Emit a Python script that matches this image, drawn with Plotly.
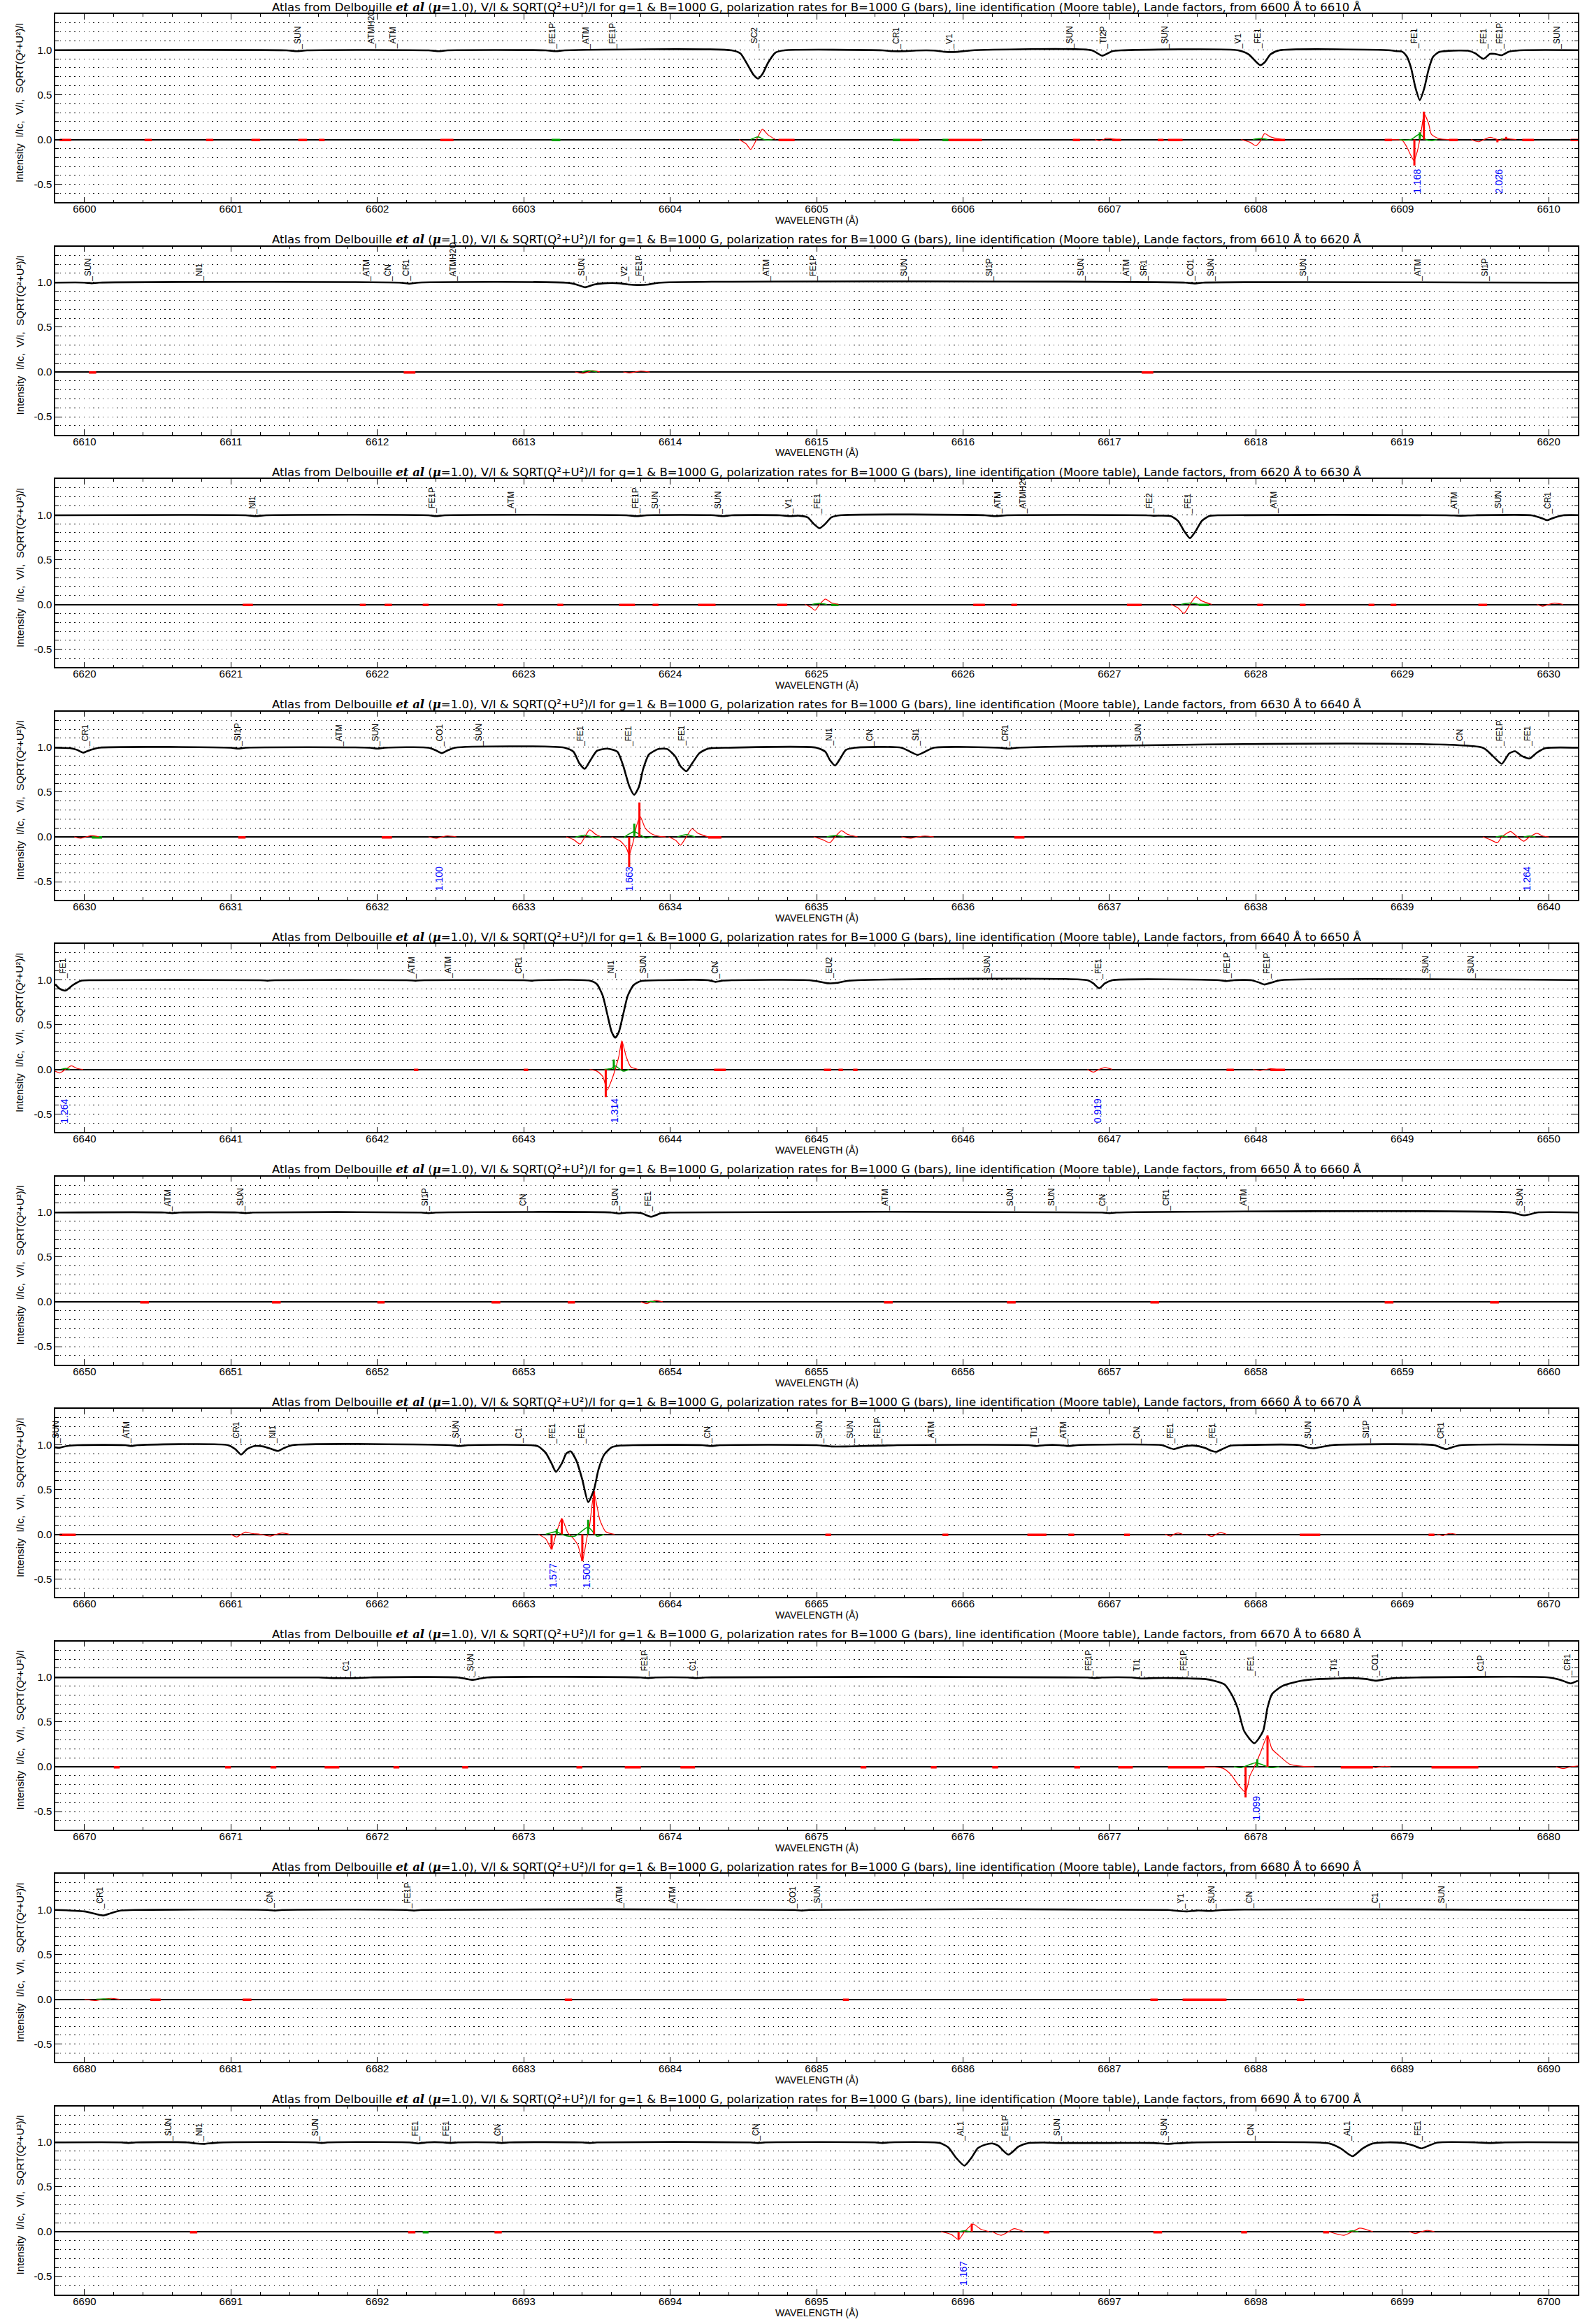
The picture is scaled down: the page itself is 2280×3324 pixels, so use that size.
import plotly.graph_objects as go

W, H = 2280, 3324
PANEL_STARTS = [6600, 6610, 6620, 6630, 6640, 6650, 6660, 6670, 6680, 6690]
YTICK_VALS = [-0.5, 0.0, 0.5, 1.0]
YTICK_TEXT = ["-0.5", "0.0", "0.5", "1.0"]

# ---------------- panel 6600-6610 ----------------
SPEC_6600 = [(6599.80, 0.997), (6601.38, 0.995), (6601.45, 0.985), (6601.52, 0.995), (6602.35, 0.995), (6602.42, 0.985),
             (6602.48, 0.995), (6603.15, 0.995), (6603.22, 0.985), (6603.28, 0.995), (6604.42, 0.995), (6604.48, 0.96),
             (6604.53, 0.83), (6604.57, 0.72), (6604.60, 0.68), (6604.63, 0.73), (6604.67, 0.86), (6604.72, 0.97),
             (6604.78, 0.995), (6605.45, 0.995), (6605.52, 0.985), (6605.60, 0.985), (6605.68, 0.993), (6605.80, 0.993),
             (6605.88, 0.978), (6605.96, 0.978), (6606.05, 0.993), (6606.88, 0.995), (6606.95, 0.935), (6607.02, 0.985),
             (6607.08, 0.995), (6607.88, 0.995), (6607.95, 0.95), (6608.00, 0.87), (6608.03, 0.83), (6608.06, 0.86),
             (6608.10, 0.95), (6608.16, 0.995), (6608.92, 0.995), (6608.96, 0.985), (6609.00, 0.98), (6609.03, 0.93),
             (6609.06, 0.80), (6609.09, 0.58), (6609.12, 0.44), (6609.15, 0.57), (6609.18, 0.78), (6609.21, 0.92),
             (6609.25, 0.975), (6609.32, 0.99), (6609.45, 0.99), (6609.50, 0.96), (6609.555, 0.90), (6609.60, 0.955),
             (6609.63, 0.955), (6609.68, 0.94), (6609.73, 0.98), (6609.80, 0.995), (6610.20, 0.997)]
VI_6600 = [[(6604.47, 0), (6604.52, -0.05), (6604.55, -0.11), (6604.59, 0.0), (6604.63, 0.115), (6604.67, 0.05), (6604.72, 0.0)],
           [(6606.90, 0), (6606.93, -0.012), (6606.96, 0), (6606.98, 0.015), (6607.02, 0.005), (6607.05, 0)],
           [(6607.90, 0), (6607.96, -0.03), (6608.00, -0.07), (6608.03, -0.02), (6608.06, 0.065), (6608.10, 0.03), (6608.18, 0.0)],
           [(6608.92, 0), (6609.00, -0.01), (6609.03, -0.08), (6609.06, -0.18), (6609.08, -0.235), (6609.10, -0.15),
            (6609.12, 0.0), (6609.135, 0.15), (6609.15, 0.287), (6609.18, 0.18), (6609.20, 0.055), (6609.25, 0.01), (6609.32, 0.0)],
           [(6609.47, 0), (6609.52, -0.025), (6609.56, 0.0), (6609.60, 0.025), (6609.64, 0.005), (6609.66, -0.01),
            (6609.70, 0.01), (6609.74, 0.005), (6609.78, 0)]]
QU_6600 = [[(6604.55, 0), (6604.60, 0.03), (6604.64, 0), (6604.67, -0.005), (6604.70, 0)],
           [(6607.98, 0), (6608.03, 0.012), (6608.08, 0)],
           [(6608.98, 0), (6609.02, -0.008), (6609.06, 0.0), (6609.12, 0.06), (6609.16, 0.0), (6609.20, -0.012), (6609.24, 0)]]
BARS_6600 = [(6609.083, -0.29, "V"), (6609.148, 0.31, "V"), (6609.12, 0.08, "Q"),
             (6609.65, -0.03, "V"), (6609.71, 0.03, "V"), (6609.68, 0.012, "Q")]
IDS_6600 = [(6601.48, "SUN"), (6601.98, "ATMH2O"), (6602.13, "ATM"), (6603.22, "FE1P"), (6603.45, "ATM"), (6603.63, "FE1P"),
            (6604.60, "SC2"), (6605.57, "CR1"), (6605.93, "V1"), (6606.75, "SUN"), (6606.98, "TI2P"), (6607.40, "SUN"),
            (6607.90, "V1"), (6608.04, "FE1"), (6609.11, "FE1"), (6609.58, "FE1"), (6609.69, "FE1P"), (6610.08, "SUN")]
LANDE_6600 = [(6609.10, "1.168"), (6609.66, "2.026")]
ZERO_6600 = [(6599.83, 6599.91, "V"), (6600.41, 6600.46, "V"), (6600.83, 6600.88, "V"), (6601.14, 6601.20, "V"),
             (6601.46, 6601.52, "V"), (6601.60, 6601.64, "V"), (6602.43, 6602.52, "V"), (6603.19, 6603.25, "Q"),
             (6604.74, 6604.85, "V"), (6605.52, 6605.57, "Q"), (6605.57, 6605.70, "V"), (6605.86, 6605.90, "Q"),
             (6605.90, 6606.13, "V"), (6606.75, 6606.80, "V"), (6607.02, 6607.08, "V"), (6607.33, 6607.37, "V"),
             (6607.40, 6607.50, "V"), (6608.12, 6608.20, "V"), (6608.88, 6608.93, "V"), (6609.32, 6609.38, "V"),
             (6609.82, 6609.90, "V"), (6610.15, 6610.20, "V")]

# ---------------- panel 6610-6620 ----------------
SPEC_6610 = [(6609.80, 0.997), (6610.00, 0.997), (6610.05, 0.99), (6610.10, 0.997), (6612.15, 0.997), (6612.22, 0.985),
             (6612.28, 0.997), (6613.30, 0.995), (6613.36, 0.975), (6613.42, 0.945), (6613.48, 0.975), (6613.55, 0.99),
             (6613.65, 0.99), (6613.72, 0.975), (6613.78, 0.97), (6613.85, 0.975), (6613.92, 0.995), (6617.52, 0.997),
             (6617.58, 0.988), (6617.64, 0.997), (6620.20, 0.997)]
VI_6610 = [[(6613.35, 0), (6613.40, -0.015), (6613.44, 0.0), (6613.47, 0.015), (6613.52, 0)],
           [(6613.68, 0), (6613.72, -0.01), (6613.76, 0), (6613.80, 0.01), (6613.86, 0)]]
QU_6610 = [[(6613.40, 0), (6613.44, 0.015), (6613.50, 0)]]
BARS_6610 = []
IDS_6610 = [(6610.05, "SUN"), (6610.81, "NI1"), (6611.95, "ATM"), (6612.10, "CN"), (6612.22, "CR1"), (6612.54, "ATMH2O"),
            (6613.42, "SUN"), (6613.71, "V2"), (6613.81, "FE1P"), (6614.68, "ATM"), (6615.00, "FE1P"), (6615.62, "SUN"),
            (6616.20, "SI1P"), (6616.83, "SUN"), (6617.14, "ATM"), (6617.26, "SR1"), (6617.58, "CO1"), (6617.72, "SUN"),
            (6618.35, "SUN"), (6619.13, "ATM"), (6619.59, "SI1P")]
LANDE_6610 = []
ZERO_6610 = [(6610.03, 6610.08, "V"), (6612.18, 6612.26, "V"), (6617.22, 6617.30, "V")]

# ---------------- panel 6620-6630 ----------------
SPEC_6620 = [(6619.80, 0.995), (6621.10, 0.995), (6621.17, 0.985), (6621.24, 0.995), (6622.35, 0.995), (6622.40, 0.985),
             (6622.46, 0.995), (6623.70, 0.995), (6623.77, 0.985), (6623.84, 0.995), (6624.30, 0.995), (6624.36, 0.985),
             (6624.42, 0.995), (6624.75, 0.995), (6624.82, 0.985), (6624.88, 0.99), (6624.94, 0.97), (6624.98, 0.90),
             (6625.02, 0.85), (6625.06, 0.90), (6625.10, 0.97), (6625.16, 0.995), (6626.15, 0.995), (6626.22, 0.985),
             (6626.30, 0.995), (6627.25, 0.995), (6627.30, 0.99), (6627.42, 0.985), (6627.47, 0.93), (6627.51, 0.82),
             (6627.55, 0.74), (6627.59, 0.82), (6627.63, 0.93), (6627.68, 0.985), (6627.75, 0.995), (6629.30, 0.995),
             (6629.40, 0.99), (6629.50, 0.995), (6629.88, 0.995), (6629.94, 0.97), (6629.99, 0.94), (6630.04, 0.97),
             (6630.10, 0.995), (6630.20, 0.997)]
VI_6620 = [[(6624.92, 0), (6624.96, -0.03), (6624.99, -0.065), (6625.02, 0), (6625.06, 0.06), (6625.10, 0.02), (6625.15, 0)],
           [(6627.42, 0), (6627.47, -0.04), (6627.51, -0.10), (6627.55, 0), (6627.59, 0.085), (6627.63, 0.04), (6627.70, 0)],
           [(6629.92, 0), (6629.96, -0.02), (6630.00, 0), (6630.04, 0.015), (6630.10, 0)]]
QU_6620 = [[(6624.97, 0), (6625.02, 0.012), (6625.07, 0)], [(6627.49, 0), (6627.55, 0.015), (6627.61, 0)]]
BARS_6620 = []
IDS_6620 = [(6621.17, "NI1"), (6622.40, "FE1P"), (6622.94, "ATM"), (6623.79, "FE1P"), (6623.92, "SUN"), (6624.35, "SUN"),
            (6624.83, "V1"), (6625.03, "FE1"), (6626.26, "ATM"), (6626.43, "ATMH2O"), (6627.30, "FE2"), (6627.56, "FE1"),
            (6628.15, "ATM"), (6629.38, "ATM"), (6629.68, "SUN"), (6630.02, "CR1")]
LANDE_6620 = []
ZERO_6620 = [(6621.08, 6621.15, "V"), (6621.88, 6621.92, "V"), (6622.05, 6622.10, "V"), (6622.31, 6622.35, "V"),
             (6622.82, 6622.86, "V"), (6623.23, 6623.27, "V"), (6623.65, 6623.76, "V"), (6623.88, 6623.92, "V"),
             (6624.19, 6624.31, "V"), (6624.73, 6624.80, "V"), (6625.10, 6625.15, "Q"), (6626.07, 6626.15, "V"),
             (6626.33, 6626.37, "V"), (6627.12, 6627.22, "V"), (6627.61, 6627.68, "Q"), (6628.01, 6628.05, "V"),
             (6628.30, 6628.34, "V"), (6628.77, 6628.81, "V"), (6628.92, 6628.96, "V"), (6629.52, 6629.58, "V")]

# ---------------- panel 6630-6640 ----------------
SPEC_6630 = [(6629.80, 0.995), (6629.90, 0.99), (6629.95, 0.97), (6629.99, 0.94), (6630.04, 0.97), (6630.10, 0.995),
             (6631.00, 0.995), (6631.05, 0.985), (6631.10, 0.995), (6631.95, 0.995), (6632.00, 0.985), (6632.05, 0.995),
             (6632.35, 0.995), (6632.40, 0.965), (6632.44, 0.935), (6632.48, 0.965), (6632.53, 0.995), (6633.28, 0.995),
             (6633.34, 0.95), (6633.38, 0.82), (6633.417, 0.76), (6633.45, 0.84), (6633.50, 0.96), (6633.57, 0.985),
             (6633.64, 0.95), (6633.68, 0.79), (6633.72, 0.57), (6633.754, 0.47), (6633.786, 0.555), (6633.816, 0.76),
             (6633.855, 0.92), (6633.92, 0.98), (6633.98, 0.98), (6634.036, 0.895), (6634.07, 0.79), (6634.111, 0.733),
             (6634.15, 0.82), (6634.20, 0.935), (6634.26, 0.985), (6634.40, 0.995), (6635.00, 0.995), (6635.06, 0.95),
             (6635.09, 0.86), (6635.126, 0.796), (6635.16, 0.87), (6635.20, 0.97), (6635.26, 0.995), (6635.58, 0.995),
             (6635.64, 0.95), (6635.69, 0.915), (6635.74, 0.95), (6635.80, 0.995), (6636.25, 0.995), (6636.31, 0.985),
             (6636.37, 0.995), (6639.55, 0.995), (6639.62, 0.90), (6639.68, 0.815), (6639.73, 0.93), (6639.77, 0.955),
             (6639.82, 0.90), (6639.87, 0.875), (6639.92, 0.94), (6639.98, 0.99), (6640.20, 0.995)]
VI_6630 = [[(6629.93, 0), (6629.97, -0.015), (6630.01, 0), (6630.05, 0.015), (6630.10, 0)],
           [(6632.35, 0), (6632.40, -0.015), (6632.44, 0), (6632.48, 0.012), (6632.54, 0)],
           [(6633.29, 0), (6633.34, -0.03), (6633.385, -0.079), (6633.417, 0), (6633.45, 0.079), (6633.49, 0.03), (6633.53, 0)],
           [(6633.60, 0), (6633.66, -0.047), (6633.70, -0.12), (6633.72, -0.20), (6633.74, -0.10), (6633.755, 0),
            (6633.77, 0.12), (6633.795, 0.228), (6633.83, 0.097), (6633.87, 0.037), (6633.93, 0.005), (6633.97, 0)],
           [(6633.99, 0), (6634.04, -0.04), (6634.07, -0.092), (6634.11, 0), (6634.15, 0.092), (6634.19, 0.04), (6634.26, 0)],
           [(6634.98, 0), (6635.04, -0.03), (6635.09, -0.065), (6635.126, 0), (6635.17, 0.07), (6635.21, 0.03), (6635.28, 0)],
           [(6635.58, 0), (6635.64, -0.015), (6635.69, 0), (6635.74, 0.01), (6635.80, 0)],
           [(6639.55, 0), (6639.60, -0.03), (6639.65, -0.065), (6639.68, 0), (6639.74, 0.06), (6639.78, 0.01),
            (6639.83, -0.047), (6639.87, 0), (6639.92, 0.04), (6639.96, 0.01), (6640.00, 0)]]
QU_6630 = [[(6633.35, -0.005), (6633.417, 0.02), (6633.48, -0.005), (6633.52, 0)],
           [(6633.68, -0.01), (6633.755, 0.058), (6633.83, -0.01), (6633.88, 0)],
           [(6634.05, 0), (6634.11, 0.025), (6634.17, 0)],
           [(6635.07, 0), (6635.13, 0.015), (6635.19, 0)],
           [(6639.64, 0), (6639.68, 0.012), (6639.72, 0)], [(6639.83, 0), (6639.87, 0.01), (6639.91, 0)]]
BARS_6630 = [(6633.72, -0.335, "V"), (6633.79, 0.385, "V"), (6633.755, 0.149, "Q")]
IDS_6630 = [(6630.03, "CR1"), (6631.07, "SI1P"), (6631.76, "ATM"), (6632.01, "SUN"), (6632.45, "CO1"), (6632.72, "SUN"),
            (6633.41, "FE1"), (6633.74, "FE1"), (6634.10, "FE1"), (6635.11, "NI1"), (6635.39, "CN"), (6635.70, "SI1"),
            (6636.31, "CR1"), (6637.22, "SUN"), (6639.42, "CN"), (6639.69, "FE1P"), (6639.88, "FE1")]
LANDE_6630 = [(6632.42, "1.100"), (6633.72, "1.663"), (6639.85, "1.264")]
ZERO_6630 = [(6630.05, 6630.12, "Q"), (6631.05, 6631.10, "V"), (6632.03, 6632.10, "V"), (6634.26, 6634.35, "V"),
             (6636.35, 6636.42, "V")]

# ---------------- panel 6640-6650 ----------------
SPEC_6640 = [(6639.80, 0.95), (6639.83, 0.90), (6639.87, 0.879), (6639.92, 0.94), (6639.98, 0.99), (6640.05, 0.995),
             (6641.20, 0.995), (6641.25, 0.99), (6641.30, 0.995), (6642.20, 0.995), (6642.26, 0.99), (6642.32, 0.995),
             (6643.00, 0.995), (6643.05, 0.99), (6643.10, 0.995), (6643.45, 0.99), (6643.50, 0.95), (6643.54, 0.82),
             (6643.57, 0.62), (6643.60, 0.42), (6643.625, 0.353), (6643.65, 0.42), (6643.68, 0.62), (6643.71, 0.82),
             (6643.75, 0.94), (6643.80, 0.985), (6643.95, 0.995), (6644.26, 0.995), (6644.31, 0.976), (6644.36, 0.99),
             (6644.42, 0.995), (6644.95, 0.995), (6645.03, 0.975), (6645.08, 0.96), (6645.14, 0.965), (6645.20, 0.985),
             (6645.28, 0.995), (6646.85, 0.995), (6646.89, 0.96), (6646.93, 0.905), (6646.97, 0.96), (6647.02, 0.995),
             (6647.75, 0.995), (6647.80, 0.985), (6647.85, 0.995), (6647.97, 0.995), (6648.02, 0.97), (6648.06, 0.947),
             (6648.11, 0.97), (6648.17, 0.995), (6650.20, 0.997)]
VI_6640 = [[(6639.80, -0.02), (6639.83, -0.04), (6639.87, 0), (6639.91, 0.04), (6639.95, 0.01), (6639.99, 0)],
           [(6643.45, 0), (6643.50, -0.02), (6643.54, -0.08), (6643.57, -0.23), (6643.60, -0.12), (6643.625, 0),
            (6643.65, 0.15), (6643.67, 0.32), (6643.70, 0.14), (6643.73, 0.03), (6643.78, 0)],
           [(6646.85, 0), (6646.89, -0.03), (6646.93, 0), (6646.97, 0.02), (6647.02, 0)],
           [(6647.98, 0), (6648.03, -0.012), (6648.07, 0), (6648.10, 0.008), (6648.14, 0)]]
QU_6640 = [[(6639.84, 0), (6639.87, 0.01), (6639.90, 0)],
           [(6643.55, 0), (6643.60, 0.01), (6643.625, 0.04), (6643.65, 0.01), (6643.68, -0.02), (6643.72, 0)]]
BARS_6640 = [(6643.56, -0.31, "V"), (6643.67, 0.31, "V"), (6643.615, 0.11, "Q")]
IDS_6640 = [(6639.88, "FE1"), (6642.26, "ATM"), (6642.51, "ATM"), (6642.99, "CR1"), (6643.62, "NI1"), (6643.84, "SUN"),
            (6644.33, "CN"), (6645.11, "EU2"), (6646.19, "SUN"), (6646.95, "FE1"), (6647.83, "FE1P"), (6648.10, "FE1P"),
            (6649.18, "SUN"), (6649.49, "SUN")]
LANDE_6640 = [(6639.86, "1.264"), (6643.62, "1.314"), (6646.92, "0.919")]
ZERO_6640 = [(6642.25, 6642.28, "V"), (6643.00, 6643.03, "V"), (6644.30, 6644.38, "V"), (6645.05, 6645.10, "V"),
             (6645.15, 6645.18, "V"), (6645.25, 6645.28, "V"), (6647.80, 6647.85, "V"), (6648.10, 6648.20, "V")]

# ---------------- panel 6650-6660 ----------------
SPEC_6650 = [(6649.80, 0.997), (6650.55, 0.997), (6650.60, 0.99), (6650.65, 0.997), (6651.05, 0.997), (6651.10, 0.99),
             (6651.15, 0.997), (6652.30, 0.997), (6652.35, 0.99), (6652.40, 0.997), (6653.60, 0.997), (6653.65, 0.985),
             (6653.70, 0.995), (6653.80, 0.99), (6653.87, 0.95), (6653.94, 0.99), (6654.00, 0.997), (6656.95, 0.997),
             (6657.00, 0.99), (6657.05, 0.997), (6659.75, 0.997), (6659.80, 0.975), (6659.83, 0.965), (6659.87, 0.975),
             (6659.92, 0.997), (6660.20, 0.997)]
VI_6650 = [[(6653.80, 0), (6653.84, -0.02), (6653.87, 0), (6653.90, 0.015), (6653.95, 0)]]
QU_6650 = [[(6653.84, 0), (6653.87, 0.006), (6653.90, 0)]]
BARS_6650 = []
IDS_6650 = [(6650.59, "ATM"), (6651.09, "SUN"), (6652.35, "SI1P"), (6653.02, "CN"), (6653.65, "SUN"), (6653.87, "FE1"),
            (6655.49, "ATM"), (6656.35, "SUN"), (6656.63, "SUN"), (6656.98, "CN"), (6657.41, "CR1"), (6657.94, "ATM"),
            (6659.83, "SUN")]
LANDE_6650 = []
ZERO_6650 = [(6650.38, 6650.44, "V"), (6651.28, 6651.34, "V"), (6652.00, 6652.05, "V"), (6652.78, 6652.84, "V"),
             (6653.30, 6653.35, "V"), (6655.46, 6655.52, "V"), (6656.30, 6656.36, "V"), (6657.28, 6657.34, "V"),
             (6658.88, 6658.94, "V"), (6659.60, 6659.66, "V")]

# ---------------- panel 6660-6670 ----------------
SPEC_6660 = [(6659.80, 0.97), (6659.83, 0.966), (6659.88, 0.985), (6659.95, 0.995), (6660.28, 0.995), (6660.32, 0.985),
             (6660.36, 0.995), (6660.98, 0.995), (6661.03, 0.95), (6661.07, 0.89), (6661.11, 0.95), (6661.16, 0.985),
             (6661.22, 0.98), (6661.28, 0.95), (6661.32, 0.93), (6661.36, 0.96), (6661.42, 0.995), (6662.50, 0.995),
             (6662.56, 0.985), (6662.62, 0.995), (6663.05, 0.995), (6663.10, 0.98), (6663.15, 0.91), (6663.19, 0.79),
             (6663.22, 0.697), (6663.26, 0.79), (6663.29, 0.90), (6663.32, 0.926), (6663.36, 0.82), (6663.40, 0.61),
             (6663.44, 0.36), (6663.48, 0.50), (6663.51, 0.72), (6663.55, 0.89), (6663.60, 0.97), (6663.66, 0.99),
             (6663.75, 0.995), (6664.22, 0.995), (6664.28, 0.985), (6664.34, 0.995), (6665.00, 0.995), (6665.10, 0.98),
             (6665.20, 0.98), (6665.30, 0.985), (6665.45, 0.99), (6665.55, 0.995), (6666.45, 0.995), (6666.50, 0.985),
             (6666.56, 0.995), (6666.66, 0.995), (6666.72, 0.985), (6666.78, 0.995), (6667.36, 0.995), (6667.40, 0.97),
             (6667.44, 0.95), (6667.48, 0.97), (6667.52, 0.985), (6667.58, 0.99), (6667.65, 0.965), (6667.70, 0.93),
             (6667.73, 0.92), (6667.77, 0.95), (6667.83, 0.99), (6667.90, 0.995), (6668.30, 0.995), (6668.36, 0.965),
             (6668.40, 0.96), (6668.45, 0.975), (6668.52, 0.995), (6669.22, 0.995), (6669.27, 0.965), (6669.30, 0.95),
             (6669.34, 0.97), (6669.40, 0.995), (6670.20, 0.997)]
VI_6660 = [[(6661.00, 0), (6661.04, -0.03), (6661.07, 0), (6661.10, 0.025), (6661.14, 0.01), (6661.20, 0), (6661.27, -0.02),
            (6661.31, 0), (6661.35, 0.015), (6661.40, 0)],
           [(6663.10, 0), (6663.15, -0.05), (6663.19, -0.16), (6663.22, 0), (6663.26, 0.176), (6663.30, 0.02),
            (6663.33, -0.03), (6663.37, -0.12), (6663.40, -0.30), (6663.43, -0.05), (6663.45, 0.1), (6663.48, 0.46),
            (6663.52, 0.16), (6663.56, 0.03), (6663.62, 0)],
           [(6667.38, 0), (6667.42, -0.02), (6667.44, 0), (6667.47, 0.015), (6667.50, 0)],
           [(6667.66, 0), (6667.70, -0.025), (6667.73, 0), (6667.76, 0.02), (6667.80, 0)],
           [(6669.24, 0), (6669.28, -0.015), (6669.30, 0), (6669.33, 0.01), (6669.37, 0)]]
QU_6660 = [[(6663.15, 0), (6663.22, 0.03), (6663.26, 0.0), (6663.30, -0.02), (6663.35, -0.02), (6663.44, 0.08),
            (6663.50, -0.02), (6663.55, 0)]]
BARS_6660 = [(6663.19, -0.17, "V"), (6663.26, 0.176, "V"), (6663.225, 0.058, "Q"),
             (6663.40, -0.30, "V"), (6663.48, 0.48, "V"), (6663.44, 0.163, "Q")]
IDS_6660 = [(6659.83, "SUN"), (6660.31, "ATM"), (6661.06, "CR1"), (6661.31, "NI1"), (6662.56, "SUN"), (6662.99, "C1"),
            (6663.22, "FE1"), (6663.42, "FE1"), (6664.28, "CN"), (6665.04, "SUN"), (6665.25, "SUN"), (6665.44, "FE1P"),
            (6665.81, "ATM"), (6666.51, "TI1"), (6666.71, "ATM"), (6667.21, "CN"), (6667.44, "FE1"), (6667.73, "FE1"),
            (6668.38, "SUN"), (6668.78, "SI1P"), (6669.29, "CR1")]
LANDE_6660 = [(6663.20, "1.577"), (6663.43, "1.500")]
ZERO_6660 = [(6659.83, 6659.94, "V"), (6665.06, 6665.10, "V"), (6665.86, 6665.90, "V"), (6666.44, 6666.57, "V"),
             (6666.72, 6666.76, "V"), (6667.10, 6667.14, "V"), (6668.30, 6668.44, "V"), (6669.18, 6669.22, "V")]

# ---------------- panel 6670-6680 ----------------
SPEC_6670 = [(6669.80, 0.997), (6671.60, 0.997), (6671.70, 0.99), (6671.85, 0.99), (6671.95, 0.997), (6672.55, 0.997),
             (6672.61, 0.98), (6672.65, 0.97), (6672.69, 0.98), (6672.75, 0.997), (6673.80, 0.997), (6673.85, 0.99),
             (6673.90, 0.997), (6674.12, 0.997), (6674.18, 0.99), (6674.24, 0.997), (6676.85, 0.997), (6676.90, 0.99),
             (6676.95, 0.997), (6677.15, 0.997), (6677.22, 0.985), (6677.30, 0.99), (6677.45, 0.99), (6677.55, 0.985),
             (6677.65, 0.98), (6677.715, 0.96), (6677.785, 0.92), (6677.83, 0.82), (6677.875, 0.66), (6677.92, 0.40),
             (6677.99, 0.263), (6678.05, 0.40), (6678.08, 0.66), (6678.11, 0.81), (6678.18, 0.90), (6678.31, 0.96),
             (6678.44, 0.98), (6678.55, 0.985), (6678.65, 0.99), (6678.75, 0.98), (6678.82, 0.96), (6678.88, 0.975),
             (6678.95, 0.99), (6679.10, 0.997), (6680.00, 0.997), (6680.08, 0.97), (6680.15, 0.93), (6680.20, 0.96)]
VI_6670 = [[(6677.60, 0), (6677.72, -0.003), (6677.78, -0.02), (6677.83, -0.087), (6677.88, -0.20), (6677.93, -0.284),
            (6677.96, -0.10), (6677.99, 0.0), (6678.03, 0.15), (6678.08, 0.347), (6678.11, 0.20), (6678.15, 0.137),
            (6678.23, 0.03), (6678.32, 0.005), (6678.40, 0)],
           [(6678.78, 0), (6678.82, -0.008), (6678.85, 0), (6678.88, 0.006), (6678.92, 0)],
           [(6680.05, 0), (6680.10, -0.02), (6680.15, 0), (6680.20, 0.01)]]
QU_6670 = [[(6677.85, 0), (6677.90, -0.01), (6677.95, 0.02), (6678.00, 0.045), (6678.05, 0.02), (6678.10, -0.01), (6678.16, 0)]]
BARS_6670 = [(6677.93, -0.34, "V"), (6678.08, 0.35, "V"), (6678.01, 0.084, "Q")]
IDS_6670 = [(6671.81, "C1"), (6672.66, "SUN"), (6673.85, "FE1P"), (6674.18, "C1"), (6676.88, "FE1P"), (6677.21, "TI1"),
            (6677.53, "FE1P"), (6677.99, "FE1"), (6678.56, "TI1"), (6678.84, "CO1"), (6679.56, "C1P"), (6680.15, "CR1")]
LANDE_6670 = [(6678.00, "1.099")]
ZERO_6670 = [(6670.20, 6670.24, "V"), (6670.96, 6671.00, "V"), (6671.27, 6671.31, "V"), (6671.64, 6671.74, "V"),
             (6672.11, 6672.15, "V"), (6672.58, 6672.62, "V"), (6673.36, 6673.40, "V"), (6673.69, 6673.80, "V"),
             (6674.07, 6674.17, "V"), (6675.30, 6675.34, "V"), (6675.78, 6675.82, "V"), (6676.20, 6676.24, "V"),
             (6676.76, 6676.80, "V"), (6677.06, 6677.16, "V"), (6677.40, 6677.65, "V"), (6678.58, 6678.80, "V"),
             (6679.20, 6679.52, "V")]

# ---------------- panel 6680-6690 ----------------
SPEC_6680 = [(6679.80, 0.997), (6680.00, 0.98), (6680.08, 0.95), (6680.13, 0.935), (6680.18, 0.96), (6680.25, 0.99),
             (6680.35, 0.997), (6681.25, 0.997), (6681.30, 0.99), (6681.35, 0.997), (6682.20, 0.997), (6682.25, 0.99),
             (6682.30, 0.997), (6684.85, 0.997), (6684.90, 0.99), (6684.95, 0.997), (6687.40, 0.997), (6687.47, 0.985),
             (6687.53, 0.98), (6687.60, 0.99), (6687.70, 0.985), (6687.78, 0.997), (6690.20, 0.997)]
VI_6680 = [[(6680.00, 0), (6680.07, -0.015), (6680.13, 0), (6680.18, 0.01), (6680.24, 0)]]
QU_6680 = [[(6680.08, 0), (6680.13, 0.005), (6680.18, 0)]]
BARS_6680 = []
IDS_6680 = [(6680.13, "CR1"), (6681.29, "CN"), (6682.23, "FE1P"), (6683.68, "ATM"), (6684.04, "ATM"), (6684.86, "CO1"),
            (6685.03, "SUN"), (6687.51, "Y1"), (6687.72, "SUN"), (6687.98, "CN"), (6688.84, "C1"), (6689.29, "SUN")]
LANDE_6680 = []
ZERO_6680 = [(6680.45, 6680.52, "V"), (6681.08, 6681.14, "V"), (6683.28, 6683.33, "V"), (6685.18, 6685.22, "V"),
             (6687.28, 6687.33, "V"), (6687.50, 6687.80, "V"), (6688.28, 6688.33, "V")]

# ---------------- panel 6690-6700 ----------------
SPEC_6690 = [(6689.80, 0.997), (6690.25, 0.997), (6690.30, 0.99), (6690.35, 0.997), (6690.70, 0.997), (6690.76, 0.985),
             (6690.82, 0.98), (6690.88, 0.99), (6690.95, 0.997), (6691.58, 0.997), (6691.62, 0.99), (6691.66, 0.997),
             (6692.22, 0.997), (6692.28, 0.985), (6692.34, 0.997), (6692.45, 0.997), (6692.50, 0.99), (6692.55, 0.997),
             (6692.80, 0.997), (6692.85, 0.99), (6692.90, 0.997), (6693.40, 0.997), (6693.45, 0.99), (6693.50, 0.997),
             (6694.55, 0.997), (6694.60, 0.99), (6694.65, 0.997), (6695.40, 0.997), (6695.45, 0.99), (6695.50, 0.997),
             (6695.84, 0.99), (6695.90, 0.94), (6695.95, 0.83), (6696.01, 0.737), (6696.06, 0.83), (6696.10, 0.93),
             (6696.15, 0.97), (6696.20, 0.985), (6696.24, 0.96), (6696.31, 0.86), (6696.38, 0.95), (6696.45, 0.99),
             (6696.55, 0.995), (6696.65, 0.99), (6697.00, 0.99), (6697.30, 0.99), (6697.40, 0.98), (6697.50, 0.99),
             (6697.60, 0.997), (6698.40, 0.997), (6698.50, 0.985), (6698.58, 0.93), (6698.66, 0.842), (6698.73, 0.93),
             (6698.80, 0.985), (6698.90, 0.997), (6699.00, 0.99), (6699.08, 0.96), (6699.13, 0.93), (6699.18, 0.96),
             (6699.24, 0.995), (6699.50, 0.997), (6699.60, 0.99), (6699.70, 0.997), (6700.20, 0.997)]
VI_6690 = [[(6695.85, 0), (6695.92, -0.03), (6695.97, -0.087), (6696.01, 0), (6696.07, 0.084), (6696.12, 0.03), (6696.18, 0)],
           [(6696.20, 0), (6696.26, -0.04), (6696.31, 0), (6696.35, 0.035), (6696.42, 0)],
           [(6698.50, 0), (6698.60, -0.04), (6698.66, 0), (6698.71, 0.04), (6698.80, 0)],
           [(6699.05, 0), (6699.09, -0.02), (6699.13, 0), (6699.17, 0.015), (6699.22, 0)]]
QU_6690 = [[(6695.97, 0), (6696.01, 0.01), (6696.05, 0)], [(6698.62, 0), (6698.66, 0.01), (6698.70, 0)]]
BARS_6690 = [(6695.97, -0.087, "V"), (6696.06, 0.09, "V")]
IDS_6690 = [(6690.60, "SUN"), (6690.81, "NI1"), (6691.60, "SUN"), (6692.28, "FE1"), (6692.49, "FE1"), (6692.85, "CN"),
            (6694.61, "CN"), (6696.01, "AL1"), (6696.31, "FE1P"), (6696.67, "SUN"), (6697.40, "SUN"), (6697.99, "CN"),
            (6698.65, "AL1"), (6699.13, "FE1")]
LANDE_6690 = [(6696.00, "1.167")]
ZERO_6690 = [(6690.72, 6690.77, "V"), (6692.21, 6692.26, "V"), (6692.31, 6692.35, "Q"), (6692.80, 6692.85, "V"),
             (6696.55, 6696.59, "V"), (6697.30, 6697.36, "V"), (6697.90, 6697.94, "V"), (6698.46, 6698.50, "V")]

SPECS = [SPEC_6600, SPEC_6610, SPEC_6620, SPEC_6630, SPEC_6640, SPEC_6650, SPEC_6660, SPEC_6670, SPEC_6680, SPEC_6690]
VIS = [VI_6600, VI_6610, VI_6620, VI_6630, VI_6640, VI_6650, VI_6660, VI_6670, VI_6680, VI_6690]
QUS = [QU_6600, QU_6610, QU_6620, QU_6630, QU_6640, QU_6650, QU_6660, QU_6670, QU_6680, QU_6690]
BARS = [BARS_6600, BARS_6610, BARS_6620, BARS_6630, BARS_6640, BARS_6650, BARS_6660, BARS_6670, BARS_6680, BARS_6690]
IDS = [IDS_6600, IDS_6610, IDS_6620, IDS_6630, IDS_6640, IDS_6650, IDS_6660, IDS_6670, IDS_6680, IDS_6690]
LANDES = [LANDE_6600, LANDE_6610, LANDE_6620, LANDE_6630, LANDE_6640, LANDE_6650, LANDE_6660, LANDE_6670, LANDE_6680, LANDE_6690]
ZEROS = [ZERO_6600, ZERO_6610, ZERO_6620, ZERO_6630, ZERO_6640, ZERO_6650, ZERO_6660, ZERO_6670, ZERO_6680, ZERO_6690]

RED = "#ff0000"
GREEN = "#00a000"
BLUE = "#0000ff"
FONT = "Liberation Sans, Arial, sans-serif"
TITLE_FONT = "DejaVu Sans, Liberation Sans, sans-serif"

# layout geometry (pixels)
PLOT_L, PLOT_R = 79, 2257
PANEL_TOP0, PANEL_PITCH, PANEL_H = 20, 332.5, 269.3


def py(p):
    return 1 - p / H


def seg_xy(segments):
    xs, ys = [], []
    for seg in segments:
        for (x, y) in seg:
            xs.append(x)
            ys.append(y)
        xs.append(None)
        ys.append(None)
    return xs, ys


fig = go.Figure()
annotations = []
layout_axes = {}

for i, start in enumerate(PANEL_STARTS):
    n = i + 1
    sfx = "" if n == 1 else str(n)
    xref, yref = "x" + sfx, "y" + sfx
    top = PANEL_TOP0 + PANEL_PITCH * i
    bot = top + PANEL_H

    # zero segments
    for col, c in (("V", RED), ("Q", GREEN)):
        xs, ys = [], []
        for (a, b, cc) in ZEROS[i]:
            if cc == col:
                xs += [a, b, None]
                ys += [-0.006, -0.006, None]
        if xs:
            fig.add_trace(go.Scatter(x=xs, y=ys, mode="lines", line=dict(color=c, width=3.5),
                                     xaxis=xref, yaxis=yref, hoverinfo="skip"))
    # V/I curve
    xs, ys = seg_xy(VIS[i])
    if xs:
        fig.add_trace(go.Scatter(x=xs, y=ys, mode="lines", line=dict(color=RED, width=1.2, shape="spline", smoothing=0.6),
                                 xaxis=xref, yaxis=yref, hoverinfo="skip"))
    xs, ys = seg_xy(QUS[i])
    if xs:
        fig.add_trace(go.Scatter(x=xs, y=ys, mode="lines", line=dict(color=GREEN, width=1.5, shape="spline", smoothing=0.6),
                                 xaxis=xref, yaxis=yref, hoverinfo="skip"))
    # bars
    for col, c in (("V", RED), ("Q", GREEN)):
        xs, ys = [], []
        for (x, v, cc) in BARS[i]:
            if cc == col:
                xs += [x, x, None]
                ys += [0, v, None]
        if xs:
            fig.add_trace(go.Scatter(x=xs, y=ys, mode="lines", line=dict(color=c, width=3),
                                     xaxis=xref, yaxis=yref, hoverinfo="skip"))
    # spectrum
    fig.add_trace(go.Scatter(x=[p[0] for p in SPECS[i]], y=[p[1] for p in SPECS[i]], mode="lines",
                             line=dict(color="black", width=2.6, shape="spline", smoothing=0.6),
                             xaxis=xref, yaxis=yref, hoverinfo="skip"))

    layout_axes["xaxis" + sfx] = dict(
        domain=[PLOT_L / W, PLOT_R / W], anchor=yref, range=[start - 0.2, start + 10.2],
        tickmode="linear", tick0=0, dtick=1, tickformat="d", ticks="inside", ticklen=8, tickwidth=1,
        tickcolor="black", showline=True, linecolor="black", linewidth=1.5, mirror="ticks",
        showgrid=False, zeroline=False, tickfont=dict(family=FONT, size=15, color="black"),
        ticklabelstandoff=-5,
        minor=dict(tickmode="linear", tick0=0, dtick=0.2, ticks="inside", ticklen=4, tickcolor="black", showgrid=False),
        fixedrange=True)
    layout_axes["yaxis" + sfx] = dict(
        domain=[py(bot), py(top)], anchor=xref, range=[-0.7, 1.4],
        tickmode="array", tickvals=YTICK_VALS, ticktext=YTICK_TEXT, ticks="inside", ticklen=10, tickwidth=1,
        tickcolor="black", showline=True, linecolor="black", linewidth=1.5, mirror="ticks",
        showgrid=True, gridcolor="black", gridwidth=1, griddash="1.3px,5.5px",
        zeroline=True, zerolinecolor="black", zerolinewidth=1.6,
        tickfont=dict(family=FONT, size=15, color="black"),
        minor=dict(tickmode="linear", tick0=0, dtick=0.1, ticks="inside", ticklen=5, tickcolor="black",
                   showgrid=True, gridcolor="black", gridwidth=1, griddash="1.3px,5.5px"),
        fixedrange=True)

    # title
    title = ("Atlas from Delbouille <b><i><span style='font-family:DejaVu Serif'>et al</span></i></b> "
             "(<b><i><span style='font-family:DejaVu Serif'>\u03bc</span></i></b>=1.0), V/I &amp; SQRT(Q\u00b2+U\u00b2)/I "
             "for g=1 &amp; B=1000 G, polarization rates for B=1000 G (bars), line identification (Moore table), "
             "Lande factors, from %d \u00c5 to %d \u00c5" % (start, start + 10))
    annotations.append(dict(text=title, xref="paper", yref="paper", x=(PLOT_L + PLOT_R) / 2 / W, y=py(top - 10),
                            xanchor="center", yanchor="middle", showarrow=False,
                            font=dict(family=TITLE_FONT, size=16.5, color="black")))
    annotations.append(dict(text="Intensity  I/Ic,  V/I,  SQRT(Q\u00b2+U\u00b2)/I", xref="paper", yref="paper",
                            x=28 / W, y=py(top + 127), xanchor="center", yanchor="middle", textangle=-90,
                            showarrow=False, font=dict(family=FONT, size=15, color="black")))
    annotations.append(dict(text="WAVELENGTH (\u00c5)", xref="paper", yref="paper", x=(PLOT_L + PLOT_R) / 2 / W,
                            y=py(top + 295), xanchor="center", yanchor="middle", showarrow=False,
                            font=dict(family=FONT, size=14, color="black")))
    for (x, lab) in IDS[i]:
        annotations.append(dict(text="_" + lab, xref=xref, yref=yref, x=x, y=1.0, xanchor="right", yanchor="bottom",
                                xshift=3, textangle=-90, showarrow=False, borderpad=0,
                                font=dict(family=FONT, size=12, color="black")))
    for (x, lab) in LANDES[i]:
        annotations.append(dict(text=lab, xref=xref, yref=yref, x=x, y=-0.32, xanchor="center", yanchor="top",
                                textangle=-90, showarrow=False, borderpad=0,
                                font=dict(family=FONT, size=14, color=BLUE)))

fig.update_layout(**layout_axes)
fig.update_layout(width=W, height=H, margin=dict(l=0, r=0, t=0, b=0), paper_bgcolor="white", plot_bgcolor="white",
                  showlegend=False, annotations=annotations)

fig.write_html("out.html", config={"displayModeBar": False},
               post_script="document.body.style.margin='0';document.body.style.overflow='hidden';")
